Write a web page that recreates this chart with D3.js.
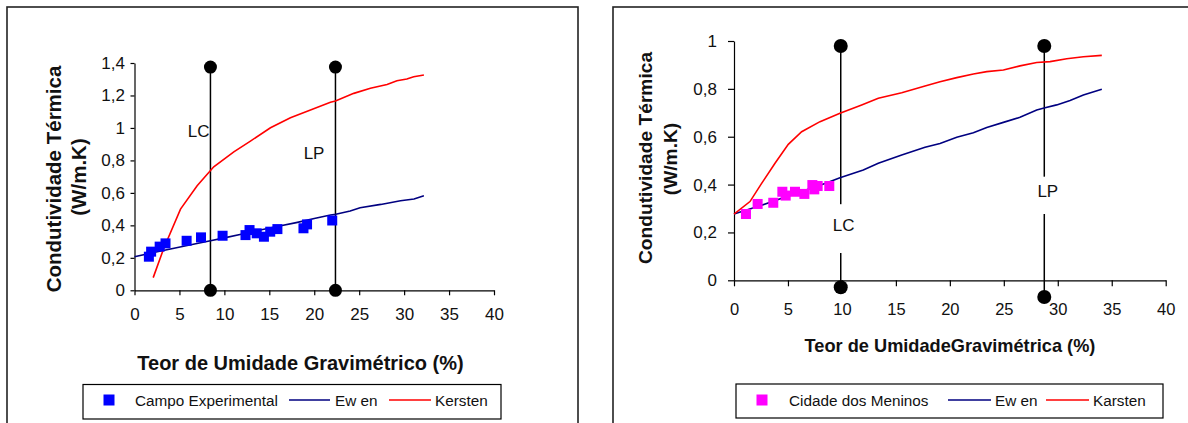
<!DOCTYPE html>
<html>
<head>
<meta charset="utf-8">
<script src="https://cdn.jsdelivr.net/npm/d3@7"></script>
<style>
  body { margin: 0; background: #fff; }
  svg { display: block; font-family: "Liberation Sans", Arial, sans-serif; }
</style>
</head>
<body>
<svg id="chart" width="1188" height="423"></svg>
<script>
// ---------- Data ----------
const xTicks = [0, 5, 10, 15, 20, 25, 30, 35, 40];
const leftYTicks = [0, 0.2, 0.4, 0.6, 0.8, 1, 1.2, 1.4];
const rightYTicks = [0, 0.2, 0.4, 0.6, 0.8, 1];

// Left chart: Campo Experimental
const campoX = [1.6, 1.85, 2.8, 3.45, 5.8, 7.4, 9.8, 12.35, 12.8, 13.6, 14.4, 15.1, 15.9, 18.8, 19.2, 22.0];
const campoY = [0.207, 0.238, 0.269, 0.289, 0.305, 0.326, 0.336, 0.340, 0.371, 0.351, 0.330, 0.361, 0.377, 0.382, 0.406, 0.43];
const ewenLX = [0, 2, 4, 6, 8.45, 10, 12, 14, 16, 18, 20, 21.8, 22.4, 24, 25.1, 27.4, 29.6, 31.1, 32.2];
const ewenLY = [0.207, 0.231, 0.254, 0.278, 0.305, 0.323, 0.347, 0.371, 0.394, 0.417, 0.442, 0.464, 0.468, 0.488, 0.509, 0.529, 0.552, 0.562, 0.583];
const kerstenLX = [2.08, 3.26, 5.12, 6.97, 8.82, 11.05, 12.9, 15.13, 17.35, 19.58, 21.8, 22.36, 24.4, 26.25, 28.1, 29.2, 30.3, 31.07, 32.2];
const kerstenLY = [0.078, 0.259, 0.50, 0.644, 0.761, 0.853, 0.919, 1.001, 1.063, 1.110, 1.158, 1.166, 1.213, 1.244, 1.268, 1.291, 1.301, 1.315, 1.326];
const leftLimitNames = ["LC", "LP"];
const leftLimitX = [8.45, 22.36];
const leftLimitTop = [1.375, 1.375];
const leftLimitBottom = [0, 0];

// Right chart: Cidade dos Meninos
const meninosX = [1.11, 2.19, 3.64, 4.48, 4.79, 5.65, 6.52, 7.26, 7.44, 7.75, 8.83];
const meninosY = [0.277, 0.319, 0.324, 0.370, 0.354, 0.370, 0.361, 0.398, 0.380, 0.394, 0.394];
const ewenRX = [0, 2.19, 5.03, 8.43, 9.82, 11.98, 13.37, 15.54, 17.7, 19.09, 20.64, 22.18, 23.42, 24.96, 26.5, 28.05, 28.73, 29.9, 31.14, 32.37, 34.08];
const ewenRY = [0.277, 0.308, 0.352, 0.405, 0.429, 0.461, 0.489, 0.524, 0.556, 0.572, 0.598, 0.617, 0.639, 0.660, 0.681, 0.712, 0.720, 0.733, 0.751, 0.774, 0.798];
const karstenRX = [0, 1.48, 2.56, 3.8, 5.03, 6.27, 7.97, 9.82, 11.83, 13.37, 15.54, 17.7, 19.09, 20.64, 22.18, 23.42, 24.96, 26.5, 28.05, 29.29, 30.83, 32.37, 34.08];
const karstenRY = [0.277, 0.329, 0.405, 0.489, 0.568, 0.621, 0.663, 0.698, 0.733, 0.761, 0.784, 0.812, 0.830, 0.847, 0.862, 0.872, 0.879, 0.896, 0.910, 0.914, 0.926, 0.934, 0.940];
const rightLimitNames = ["LC", "LP"];
const rightLimitX = [9.89, 28.75];
const rightLimitTop = [0.979, 0.979];
const rightLimitBottom = [-0.029, -0.07];
const rightLimitGapTop = [0.318, 0.433];
const rightLimitGapBottom = [0.114, 0.277];

const yTitle1 = "Condutividade Térmica";
const yTitle2 = "(W/m.K)";
const leftXTitle = "Teor de Umidade Gravimétrico (%)";
const rightXTitle = "Teor de UmidadeGravimétrica (%)";
const leftLegend = ["Campo Experimental", "Ew en", "Kersten"];
const rightLegend = ["Cidade dos Meninos", "Ew en", "Karsten"];

// ---------- Drawing ----------
const svg = d3.select("#chart");
const fmt = d => String(d).replace(".", ",");
const zip = (xs, ys) => xs.map((x, i) => [x, ys[i]]);

// Frames
svg.append("rect").attr("x", 7).attr("y", 7).attr("width", 571).attr("height", 440)
  .attr("fill", "#fff").attr("stroke", "#222").attr("stroke-width", 1.6);
svg.append("rect").attr("x", 613).attr("y", 7).attr("width", 600).attr("height", 440)
  .attr("fill", "#fff").attr("stroke", "#222").attr("stroke-width", 1.6);

function styleAxis(g, size) {
  g.selectAll("path.domain").attr("stroke", "#000").attr("stroke-width", 1.2);
  g.selectAll(".tick line").attr("stroke", "#000").attr("stroke-width", 1.2);
  g.selectAll(".tick text").attr("fill", "#111").style("font-size", size + "px")
    .style("font-family", '"Liberation Sans", Arial, sans-serif');
}

// ===== Left chart =====
{
  const x = d3.scaleLinear().domain([0, 40]).range([134.5, 494]);
  const y = d3.scaleLinear().domain([0, 1.4]).range([290.3, 63]);
  const g = svg.append("g");

  g.append("g").attr("transform", "translate(0,290.3)")
    .call(d3.axisBottom(x).tickValues(xTicks).tickFormat(fmt).tickSize(5).tickSizeOuter(0).tickPadding(13))
    .call(a => styleAxis(a, 17));
  g.append("g").attr("transform", "translate(134.5,0)")
    .call(d3.axisLeft(y).tickValues(leftYTicks).tickFormat(fmt).tickSize(4).tickSizeOuter(0).tickPadding(5.5))
    .call(a => styleAxis(a, 17));

  const line = d3.line().x(d => x(d[0])).y(d => y(d[1]));
  // limit lines
  leftLimitX.forEach((lx, i) => {
    g.append("line").attr("x1", x(lx)).attr("x2", x(lx))
      .attr("y1", y(leftLimitTop[i])).attr("y2", y(leftLimitBottom[i]))
      .attr("stroke", "#000").attr("stroke-width", 1.5);
    g.append("circle").attr("cx", x(lx)).attr("cy", y(leftLimitTop[i])).attr("r", 6.5).attr("fill", "#000");
    g.append("circle").attr("cx", x(lx)).attr("cy", y(leftLimitBottom[i])).attr("r", 6.5).attr("fill", "#000");
  });
  g.append("text").attr("x", x(leftLimitX[0]) - 1).attr("y", 137).attr("text-anchor", "end")
    .style("font-size", "17px").attr("fill", "#111").text(leftLimitNames[0]);
  g.append("text").attr("x", x(leftLimitX[1]) - 11).attr("y", 159).attr("text-anchor", "end")
    .style("font-size", "17px").attr("fill", "#111").text(leftLimitNames[1]);

  g.append("path").datum(zip(ewenLX, ewenLY)).attr("d", line)
    .attr("fill", "none").attr("stroke", "#000080").attr("stroke-width", 1.6);
  g.append("path").datum(zip(kerstenLX, kerstenLY)).attr("d", line)
    .attr("fill", "none").attr("stroke", "#ff0000").attr("stroke-width", 1.6);
  g.selectAll("rect.pt").data(zip(campoX, campoY)).join("rect").attr("class", "pt")
    .attr("x", d => x(d[0]) - 5).attr("y", d => y(d[1]) - 5)
    .attr("width", 10).attr("height", 10).attr("fill", "#0000ff");

  // titles
  g.append("text").attr("transform", "translate(60.5,179) rotate(-90)").attr("text-anchor", "middle")
    .style("font-size", "20.5px").style("font-weight", "bold").attr("fill", "#111").text(yTitle1);
  g.append("text").attr("transform", "translate(86,177) rotate(-90)").attr("text-anchor", "middle")
    .style("font-size", "20.5px").style("font-weight", "bold").attr("fill", "#111").text(yTitle2);
  g.append("text").attr("x", 300.5).attr("y", 370).attr("text-anchor", "middle")
    .style("font-size", "20px").style("font-weight", "bold").attr("fill", "#111").text(leftXTitle);

  // legend
  const lg = g.append("g");
  lg.append("rect").attr("x", 83).attr("y", 384.5).attr("width", 418).attr("height", 34.5)
    .attr("fill", "#fff").attr("stroke", "#000").attr("stroke-width", 1.2);
  lg.append("rect").attr("x", 103.5).attr("y", 394.5).attr("width", 11).attr("height", 11).attr("fill", "#0000ff");
  lg.append("text").attr("x", 135).attr("y", 405.5).style("font-size", "15.3px").attr("fill", "#111").text(leftLegend[0]);
  lg.append("line").attr("x1", 289).attr("x2", 330).attr("y1", 400).attr("y2", 400).attr("stroke", "#000080").attr("stroke-width", 1.6);
  lg.append("text").attr("x", 335).attr("y", 405.5).style("font-size", "15.3px").attr("fill", "#111").text(leftLegend[1]);
  lg.append("line").attr("x1", 389).attr("x2", 431).attr("y1", 400).attr("y2", 400).attr("stroke", "#ff0000").attr("stroke-width", 1.6);
  lg.append("text").attr("x", 435).attr("y", 405.5).style("font-size", "15.3px").attr("fill", "#111").text(leftLegend[2]);
}

// ===== Right chart =====
{
  const x = d3.scaleLinear().domain([0, 40]).range([734, 1165.7]);
  const y = d3.scaleLinear().domain([0, 1]).range([280.3, 41]);
  const g = svg.append("g");

  g.append("g").attr("transform", "translate(0,280.3)")
    .call(d3.axisBottom(x).tickValues(xTicks).tickFormat(fmt).tickSize(6).tickSizeOuter(0).tickPadding(16.5))
    .call(a => styleAxis(a, 16.5));
  g.append("g").attr("transform", "translate(734,0)")
    .call(d3.axisLeft(y).tickValues(rightYTicks).tickFormat(fmt).tickSize(6).tickSizeOuter(0).tickPadding(11))
    .call(a => styleAxis(a, 17));

  const line = d3.line().x(d => x(d[0])).y(d => y(d[1]));
  rightLimitX.forEach((lx, i) => {
    g.append("line").attr("x1", x(lx)).attr("x2", x(lx))
      .attr("y1", y(rightLimitTop[i])).attr("y2", y(rightLimitGapTop[i]))
      .attr("stroke", "#000").attr("stroke-width", 1.5);
    g.append("line").attr("x1", x(lx)).attr("x2", x(lx))
      .attr("y1", y(rightLimitGapBottom[i])).attr("y2", y(rightLimitBottom[i]))
      .attr("stroke", "#000").attr("stroke-width", 1.5);
    g.append("circle").attr("cx", x(lx)).attr("cy", y(rightLimitTop[i])).attr("r", 7).attr("fill", "#000");
    g.append("circle").attr("cx", x(lx)).attr("cy", y(rightLimitBottom[i])).attr("r", 7).attr("fill", "#000");
  });
  g.append("text").attr("x", x(rightLimitX[0]) + 3).attr("y", 231).attr("text-anchor", "middle")
    .style("font-size", "17px").attr("fill", "#111").text(rightLimitNames[0]);
  g.append("text").attr("x", x(rightLimitX[1]) + 3.5).attr("y", 197).attr("text-anchor", "middle")
    .style("font-size", "17px").attr("fill", "#111").text(rightLimitNames[1]);

  g.append("path").datum(zip(ewenRX, ewenRY)).attr("d", line)
    .attr("fill", "none").attr("stroke", "#000080").attr("stroke-width", 1.6);
  g.append("path").datum(zip(karstenRX, karstenRY)).attr("d", line)
    .attr("fill", "none").attr("stroke", "#ff0000").attr("stroke-width", 1.6);
  g.selectAll("rect.pt").data(zip(meninosX, meninosY)).join("rect").attr("class", "pt")
    .attr("x", d => x(d[0]) - 5).attr("y", d => y(d[1]) - 5)
    .attr("width", 10).attr("height", 10).attr("fill", "#ff00ff");

  g.append("text").attr("transform", "translate(652,158) rotate(-90)").attr("text-anchor", "middle")
    .style("font-size", "19.2px").style("font-weight", "bold").attr("fill", "#111").text(yTitle1);
  g.append("text").attr("transform", "translate(677,159) rotate(-90)").attr("text-anchor", "middle")
    .style("font-size", "19.2px").style("font-weight", "bold").attr("fill", "#111").text(yTitle2);
  g.append("text").attr("x", 950).attr("y", 351.7).attr("text-anchor", "middle")
    .style("font-size", "18.2px").style("font-weight", "bold").attr("fill", "#111").text(rightXTitle);

  const lg = g.append("g");
  lg.append("rect").attr("x", 736).attr("y", 384).attr("width", 427).attr("height", 34)
    .attr("fill", "#fff").attr("stroke", "#000").attr("stroke-width", 1.2);
  lg.append("rect").attr("x", 756.5).attr("y", 394.5).attr("width", 11).attr("height", 11).attr("fill", "#ff00ff");
  lg.append("text").attr("x", 789).attr("y", 405.5).style("font-size", "15.3px").attr("fill", "#111").text(rightLegend[0]);
  lg.append("line").attr("x1", 948).attr("x2", 991).attr("y1", 400).attr("y2", 400).attr("stroke", "#000080").attr("stroke-width", 1.6);
  lg.append("text").attr("x", 995).attr("y", 405.5).style("font-size", "15.3px").attr("fill", "#111").text(rightLegend[1]);
  lg.append("line").attr("x1", 1046).attr("x2", 1089).attr("y1", 400).attr("y2", 400).attr("stroke", "#ff0000").attr("stroke-width", 1.6);
  lg.append("text").attr("x", 1093).attr("y", 405.5).style("font-size", "15.3px").attr("fill", "#111").text(rightLegend[2]);
}
</script>
</body>
</html>
